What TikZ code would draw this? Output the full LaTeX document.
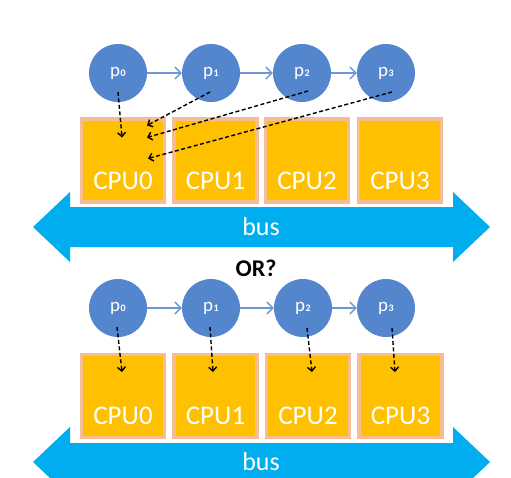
\documentclass[tikz,border=0pt]{standalone}
\usepackage{fontspec}
\setmainfont{Carlito}
\usetikzlibrary{arrows.meta}
\definecolor{procblue}{RGB}{84,134,205}
\definecolor{linkblue}{RGB}{110,150,210}
\definecolor{busblue}{RGB}{0,174,239}
\definecolor{cpufill}{RGB}{255,192,0}
\definecolor{cpuedge}{RGB}{246,188,150}
\tikzset{
  x=1pt, y=-1pt,
  proc/.style={circle, fill=procblue, draw=none, minimum size=58pt, inner sep=0pt,
    text=white, font=\fontsize{19}{19}\selectfont},
  cpubox/.style={rectangle, fill=cpufill, draw=cpuedge, line width=3.5pt,
    minimum width=83pt, minimum height=83pt, inner sep=0pt},
  cputext/.style={text=white, font=\fontsize{27}{27}\selectfont, inner sep=0pt},
  link/.style={draw=linkblue, line width=1.3pt, -{Straight Barb[length=6pt,width=12pt,line width=1.3pt]}},
  assign/.style={draw=black, line width=1.4pt, dash pattern=on 4pt off 2.5pt,
    -{Straight Barb[length=4pt,width=8pt,line width=1.4pt]}},
  busfill/.style={fill=busblue, draw=none},
  bustext/.style={text=white, font=\fontsize{26}{26}\selectfont, inner sep=0pt},
}
\newcommand{\psub}[1]{p\kern0.5pt{\fontsize{10}{10}\selectfont\bfseries #1}}
\begin{document}
\begin{tikzpicture}
\useasboundingbox[fill=white] (0,0) rectangle (511,477);

% ---------- top diagram ----------
% bus
\path[busfill] (33,227) -- (70,192) -- (70,207) -- (453,207) -- (453,192) -- (490,227)
  -- (453,262) -- (453,247) -- (70,247) -- (70,262) -- cycle;
\node[bustext] (bus1) at (261,227) {bus};

% cpus
\node[cpubox] (a0) at (123,160.5) {};
\node[cpubox] (a1) at (215.5,160.5) {};
\node[cpubox] (a2) at (307,160.5) {};
\node[cpubox] (a3) at (400,160.5) {};
\foreach \i in {0,1,2,3}{
  \node[cputext] (at\i) at ([yshift=-20pt]a\i.center) {CPU\i};
}

% processes
\node[proc] (p0) at (118,73) {\psub{0}};
\node[proc] (p1) at (211,73) {\psub{1}};
\node[proc] (p2) at (302,73) {\psub{2}};
\node[proc] (p3) at (386,73) {\psub{3}};
\draw[link] (p0) -- (p1);
\draw[link] (p1) -- (p2);
\draw[link] (p2) -- (p3);

\draw[assign] ([shift={(0,19)}]p0.center) -- ([shift={(-1,-23)}]a0.center);
\draw[assign] ([shift={(-1,19)}]p1.center) -- ([shift={(24,-35)}]a0.center);
\draw[assign] ([shift={(6,18)}]p2.center) -- ([shift={(24,-23)}]a0.center);
\draw[assign] ([shift={(6,19)}]p3.center) -- ([shift={(25,-2)}]a0.center);

% ---------- OR? ----------
\node[font=\fontsize{24}{24}\selectfont\bfseries, inner sep=0pt] (or) at (256,268) {OR?};

% ---------- bottom diagram ----------
\path[busfill] (33,462) -- (70,427) -- (70,443) -- (453,443) -- (453,427) -- (490,462)
  -- (453,497) -- (453,481) -- (70,481) -- (70,497) -- cycle;
\node[bustext] (bus2) at (261,462) {bus};

\node[cpubox] (b0) at (123,396) {};
\node[cpubox] (b1) at (215.5,396) {};
\node[cpubox] (b2) at (308,396) {};
\node[cpubox] (b3) at (400.5,396) {};
\foreach \i in {0,1,2,3}{
  \node[cputext] (bt\i) at ([yshift=-20pt]b\i.center) {CPU\i};
}

\node[proc] (q0) at (118,308) {\psub{0}};
\node[proc] (q1) at (211,308) {\psub{1}};
\node[proc] (q2) at (303,308) {\psub{2}};
\node[proc] (q3) at (386,308) {\psub{3}};
\draw[link] (q0) -- (q1);
\draw[link] (q1) -- (q2);
\draw[link] (q2) -- (q3);

\draw[assign] ([shift={(-1,19)}]q0.center) -- ([shift={(-1,-24)}]b0.center);
\draw[assign] ([shift={(-1,19)}]q1.center) -- ([shift={(-2.5,-24)}]b1.center);
\draw[assign] ([shift={(4,20)}]q2.center) -- ([shift={(4,-24)}]b2.center);
\draw[assign] ([shift={(6,20)}]q3.center) -- ([shift={(-5.5,-24)}]b3.center);
\end{tikzpicture}
\end{document}
